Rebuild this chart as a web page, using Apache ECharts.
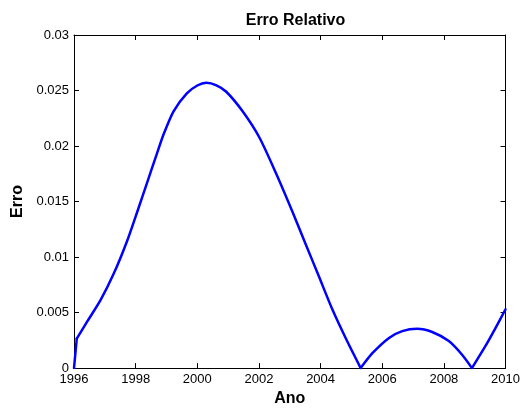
<!DOCTYPE html>
<html>
<head>
<meta charset="utf-8">
<script src="https://cdn.jsdelivr.net/npm/echarts@6/dist/echarts.min.js"></script>
<style>
  html, body { margin: 0; padding: 0; background: #fff; }
  #erro-chart { width: 523px; height: 412px; }
</style>
</head>
<body>
<div id="erro-chart"></div>
<script>
// erro relativo por ano
var anos = [1996.00, 1996.09, 1996.43, 1996.86, 1997.29, 1997.72, 1998.05, 1998.37, 1998.69, 1998.91,
            1999.23, 1999.66, 2000.00, 2000.29, 2000.62, 2000.94, 2001.47, 2002.01, 2002.55, 2003.09, 2003.52,
            2003.95, 2004.38, 2004.82, 2005.30,
            2005.68, 2006.22, 2006.65, 2007.13, 2007.62, 2008.16, 2008.59, 2008.91,
            2009.34, 2009.66, 2010.00];
var erros = [0, 0.00266, 0.0042, 0.00612, 0.00851, 0.01143, 0.01406, 0.01669, 0.01932, 0.02108,
             0.02313, 0.02474, 0.02545, 0.0257, 0.02547, 0.02489, 0.02313, 0.02079, 0.01757, 0.01406, 0.01114,
             0.00822, 0.00529, 0.00266, 0,
             0.00134, 0.00272, 0.00333, 0.00354, 0.00325, 0.00243, 0.0012, 0,
             0.00195, 0.00354, 0.0053];

var fonte = 'Liberation Sans, Arial, Helvetica, sans-serif';

// quebra a curva nos pontos de erro zero (bicos) e no primeiro degrau
var trechos = [];
var atual = [];
for (var i = 0; i < anos.length; i++) {
    atual.push([anos[i], erros[i]]);
    if ((erros[i] === 0 && i > 0) || i === 1) {
        trechos.push(atual);
        atual = [[anos[i], erros[i]]];
    }
}
if (atual.length > 1) trechos.push(atual);

var myChart = echarts.init(document.getElementById('erro-chart'), null, {renderer: 'canvas'});

var eixoX = {
    type: 'value', min: 1996, max: 2010, interval: 2,
    axisLine: {show: true, onZero: false, lineStyle: {color: '#000', width: 1}},
    axisTick: {show: true, inside: true, length: 5, lineStyle: {color: '#000'}},
    splitLine: {show: false}
};
var eixoY = {
    type: 'value', min: 0, max: 0.03, interval: 0.005,
    axisLine: {show: true, onZero: false, lineStyle: {color: '#000', width: 1}},
    axisTick: {show: true, inside: true, length: 5, lineStyle: {color: '#000'}},
    splitLine: {show: false}
};

var series = [];
for (var k = 0; k < trechos.length; k++) {
    series.push({
        name: 'Erro',
        type: 'line',
        xAxisIndex: 0,
        yAxisIndex: 0,
        data: trechos[k],
        symbol: 'none',
        smooth: 0.25,
        lineStyle: {color: '#0000ff', width: 2.5, cap: 'round', join: 'round'},
        clip: true
    });
}

var option = {
    animation: false,
    backgroundColor: '#fff',
    title: {
        text: 'Erro Relativo',
        left: 290.5,
        top: 8,
        textAlign: 'center',
        textStyle: {fontFamily: fonte, fontWeight: 'bold', fontSize: 16, color: '#000'}
    },
    grid: {left: 74, right: 16, top: 35, bottom: 35, containLabel: false},
    xAxis: [
        Object.assign({}, eixoX, {
            position: 'bottom',
            name: 'Ano',
            nameLocation: 'middle',
            nameGap: 19,
            nameTextStyle: {fontFamily: fonte, fontWeight: 'bold', fontSize: 16, color: '#000'},
            axisLabel: {
                margin: 5, color: '#000', fontFamily: fonte, fontSize: 13,
                showMinLabel: true, showMaxLabel: true,
                formatter: function (v) { return String(v); }
            }
        }),
        Object.assign({}, eixoX, {position: 'top', axisLabel: {show: false}})
    ],
    yAxis: [
        Object.assign({}, eixoY, {
            position: 'left',
            name: 'Erro',
            nameLocation: 'middle',
            nameGap: 44,
            nameTextStyle: {fontFamily: fonte, fontWeight: 'bold', fontSize: 16, color: '#000'},
            axisLabel: {
                margin: 5, color: '#000', fontFamily: fonte, fontSize: 13,
                showMinLabel: true, showMaxLabel: true,
                formatter: function (v) { return String(+v.toFixed(3)); }
            }
        }),
        Object.assign({}, eixoY, {position: 'right', axisLabel: {show: false}})
    ],
    series: series
};
myChart.setOption(option);
</script>
</body>
</html>
